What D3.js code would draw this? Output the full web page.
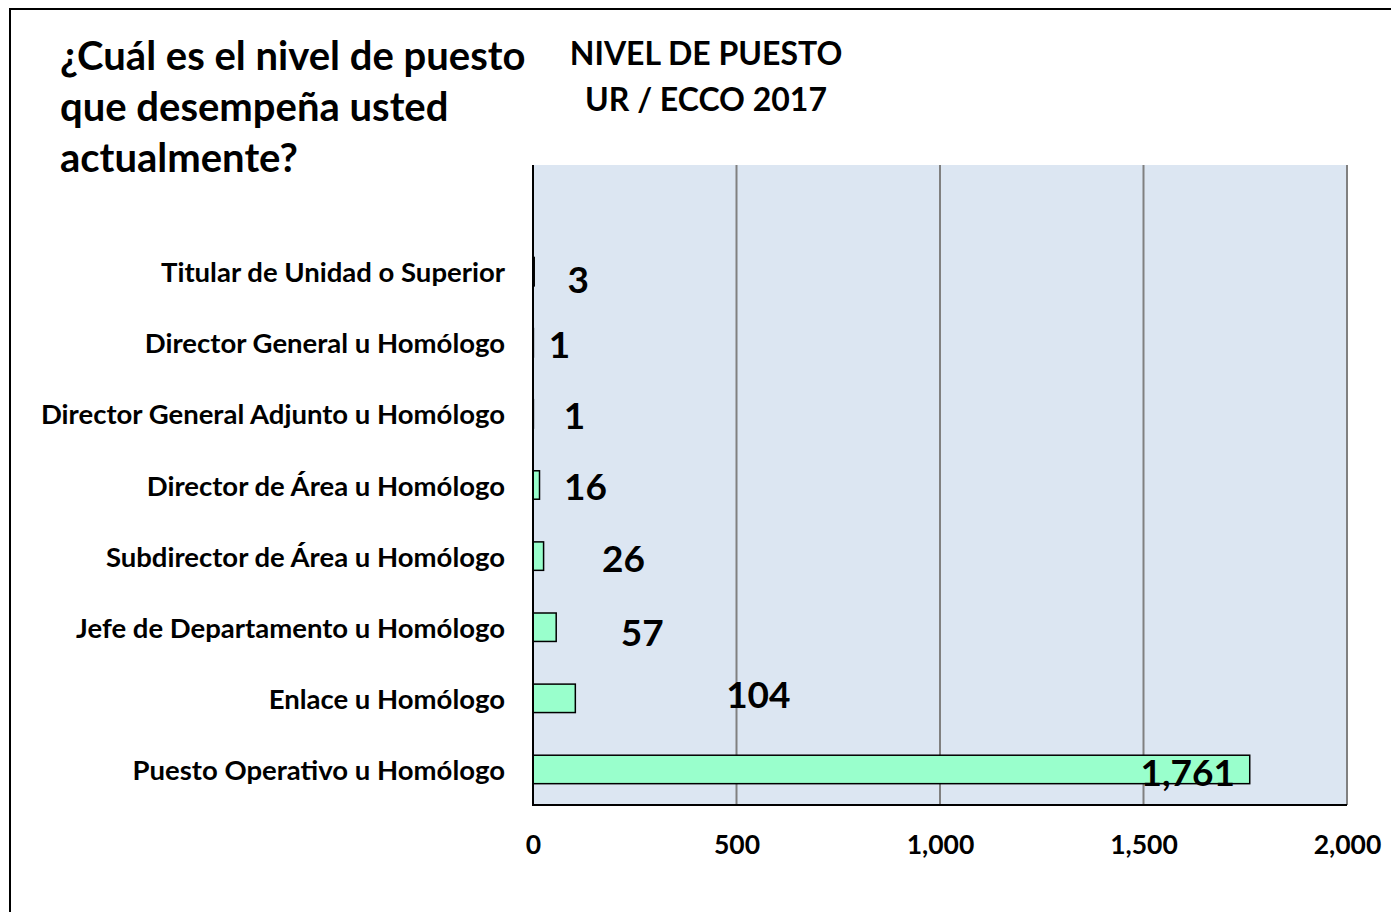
<!DOCTYPE html>
<html lang="es">
<head>
<meta charset="utf-8">
<script src="https://cdn.jsdelivr.net/npm/d3@7"></script>
<style>
  html, body { margin: 0; padding: 0; background: #ffffff; }
  svg { display: block; }
  text { font-family: Lato, "Open Sans", sans-serif; font-weight: 700; fill: #000; }
</style>
</head>
<body>
<svg id="chart" width="1391" height="912"></svg>
<script>
// Job level categories, top to bottom
const categories = [
  "Titular de Unidad o Superior",
  "Director General u Homólogo",
  "Director General Adjunto u Homólogo",
  "Director de Área u Homólogo",
  "Subdirector de Área u Homólogo",
  "Jefe de Departamento u Homólogo",
  "Enlace u Homólogo",
  "Puesto Operativo u Homólogo"
];
// Respondents per job level
const values = [3, 1, 1, 16, 26, 57, 104, 1761];
// Value axis ticks
const xTicks = [0, 500, 1000, 1500, 2000];

const questionLines = ["¿Cuál es el nivel de puesto", "que desempeña usted", "actualmente?"];
const chartTitleLines = ["NIVEL DE PUESTO", "UR / ECCO 2017"];

// Hand-placed value-label nudges (px) relative to the bar end
const labelNudge = [
  [44, 7], [26, 1], [41, 1], [46, 0], [80, 1], [86, 4], [183, -5], [-62, 2]
];

const svg = d3.select("#chart");
const plot = { left: 533, right: 1347, top: 165, bottom: 805 };

// Outer frame
svg.append("rect")
  .attr("x", 10).attr("y", 9).attr("width", 1400).attr("height", 1000)
  .attr("fill", "none").attr("stroke", "#000").attr("stroke-width", 2);

const x = d3.scaleLinear().domain([0, 2000]).range([plot.left, plot.right]);
// One empty slot above the first category
const y = d3.scaleBand()
  .domain(["__gap__", ...categories])
  .range([plot.top, plot.bottom])
  .paddingInner(0.6).paddingOuter(0.3);

// Plot background
svg.append("rect")
  .attr("x", plot.left).attr("y", plot.top)
  .attr("width", plot.right - plot.left).attr("height", plot.bottom - plot.top)
  .attr("fill", "#DCE6F2");

// Vertical gridlines
svg.append("g")
  .selectAll("line")
  .data(xTicks.filter(d => d > 0))
  .join("line")
  .attr("x1", d => x(d)).attr("x2", d => x(d))
  .attr("y1", plot.top).attr("y2", plot.bottom)
  .attr("stroke", "#808080").attr("stroke-width", 2);

// Bars
svg.append("g")
  .selectAll("rect")
  .data(values)
  .join("rect")
  .attr("x", x(0))
  .attr("y", (d, i) => y(categories[i]))
  .attr("width", d => x(d) - x(0))
  .attr("height", y.bandwidth())
  .attr("fill", "#99FFCC")
  .attr("stroke", "#000")
  .attr("stroke-width", 1.5);

// Axis lines
svg.append("line")
  .attr("x1", plot.left).attr("x2", plot.left)
  .attr("y1", plot.top).attr("y2", plot.bottom + 1)
  .attr("stroke", "#000").attr("stroke-width", 2);
svg.append("line")
  .attr("x1", plot.left).attr("x2", plot.right)
  .attr("y1", plot.bottom).attr("y2", plot.bottom)
  .attr("stroke", "#000").attr("stroke-width", 2);

// Value axis tick labels
const xAxis = d3.axisBottom(x).tickValues(xTicks).tickSize(0).tickPadding(0)
  .tickFormat(d3.format(","));
const gx = svg.append("g").attr("transform", `translate(0,${plot.bottom + 39})`).call(xAxis);
gx.select(".domain").remove();
gx.selectAll("text")
  .attr("dy", null)
  .attr("dominant-baseline", "central")
  .style("font-family", "Lato, 'Open Sans', sans-serif")
  .style("font-weight", 700)
  .style("font-size", "26.5px")
  .attr("fill", "#000");

// Category labels
const yAxis = d3.axisLeft(y).tickValues(categories).tickSize(0).tickPadding(0);
const gy = svg.append("g").attr("transform", `translate(${plot.left - 28},0)`).call(yAxis);
gy.select(".domain").remove();
gy.selectAll("text")
  .attr("dy", null)
  .attr("dominant-baseline", "central")
  .style("font-family", "Lato, 'Open Sans', sans-serif")
  .style("font-weight", 700)
  .style("font-size", "27.5px")
  .attr("fill", "#000");

// Value labels
svg.append("g")
  .selectAll("text")
  .data(values)
  .join("text")
  .attr("x", (d, i) => x(d) + labelNudge[i][0])
  .attr("y", (d, i) => y(categories[i]) + y.bandwidth() / 2 + labelNudge[i][1])
  .attr("text-anchor", "middle")
  .attr("dominant-baseline", "central")
  .style("font-size", "37px")
  .text(d => d3.format(",")(d));

// Question text
svg.append("text")
  .style("font-size", "40px")
  .selectAll("tspan")
  .data(questionLines)
  .join("tspan")
  .attr("x", 60)
  .attr("y", (d, i) => 70 + i * 51)
  .text(d => d);

// Chart title
svg.append("text")
  .attr("text-anchor", "middle")
  .style("font-size", "32px")
  .selectAll("tspan")
  .data(chartTitleLines)
  .join("tspan")
  .attr("x", 706)
  .attr("y", (d, i) => 65 + i * 46)
  .text(d => d);
</script>
</body>
</html>
